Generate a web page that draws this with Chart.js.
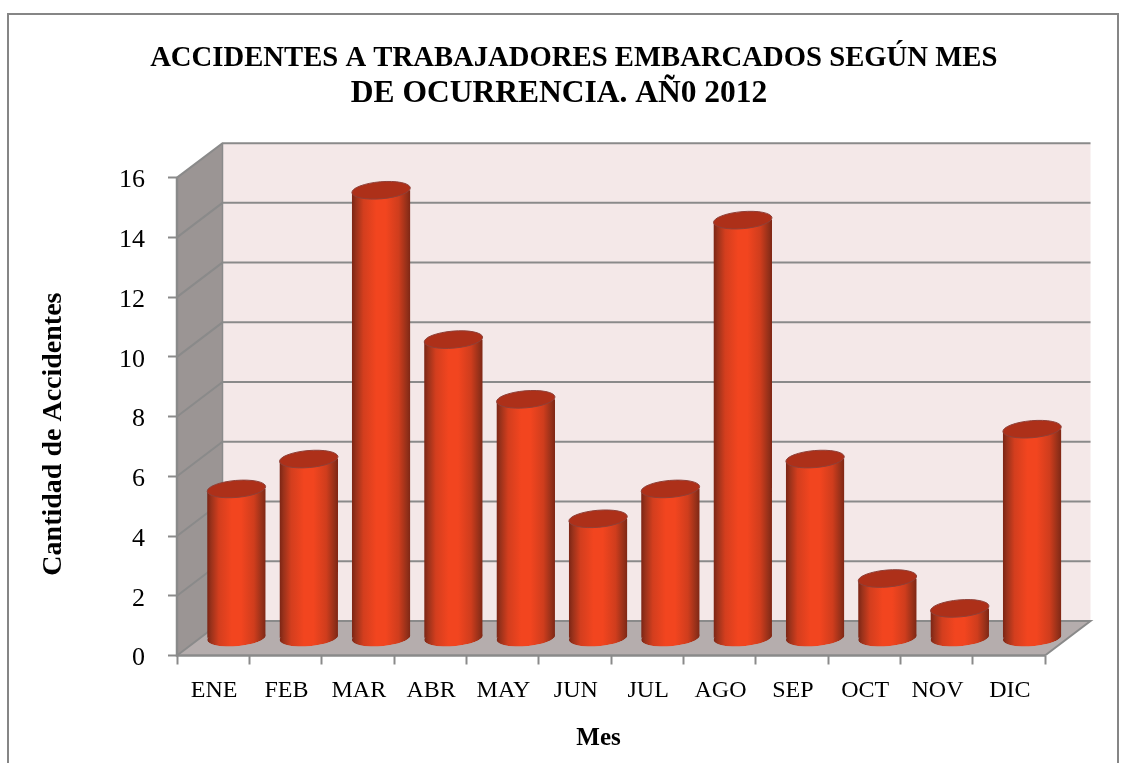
<!DOCTYPE html>
<html>
<head>
<meta charset="utf-8">
<style>html,body{margin:0;padding:0;background:#fff}canvas{display:block}</style>
<script src="https://cdn.jsdelivr.net/npm/chart.js@4"></script>
</head>
<body>
<canvas id="c" width="1126" height="763"></canvas>
<script>
const categories = ['ENE','FEB','MAR','ABR','MAY','JUN','JUL','AGO','SEP','OCT','NOV','DIC'];
const accidents = [5,6,15,10,8,4,5,14,6,2,1,7];
const titleLine1 = '\u00A0\u00A0\u00A0ACCIDENTES A TRABAJADORES EMBARCADOS SEGÚN MES';
const titleLine2 = 'DE OCURRENCIA. AÑ0 2012\u00A0';
const yTitle = 'Cantidad de Accidentes\u00A0\u00A0\u00A0\u00A0\u00A0';
const xTitle = 'Mes\u00A0\u00A0\u00A0\u00A0';
const FONT = '"Liberation Serif"';
const DX = 45.5, DY = -34.5, GRID = '#8a8a8a';

function poly(ctx, pts, fill, stroke, lw){
  ctx.beginPath();
  pts.forEach((p,i)=> i?ctx.lineTo(p[0],p[1]):ctx.moveTo(p[0],p[1]));
  if(fill){ctx.closePath();ctx.fillStyle=fill;ctx.fill();}
  if(stroke){ctx.strokeStyle=stroke;ctx.lineWidth=lw||2;ctx.stroke();}
}
function cylGradient(ctx,l,r){
  const g=ctx.createLinearGradient(l,0,r,0);
  g.addColorStop(0,'#7a2414');g.addColorStop(.07,'#9a321b');g.addColorStop(.2,'#d33e1e');
  g.addColorStop(.42,'#f2451f');g.addColorStop(.58,'#f2451f');g.addColorStop(.8,'#cf3d1d');
  g.addColorStop(.94,'#943019');g.addColorStop(1,'#7e2614');
  return g;
}
const TILT=-0.085, RY=8.5;
const scene3d={
  id:'scene3d',
  beforeDraw(chart){
    const c=chart.ctx;
    c.save();
    c.fillStyle='#fff';c.fillRect(0,0,chart.width,chart.height);
    c.strokeStyle='#868686';c.lineWidth=2;
    c.beginPath();c.moveTo(8,763);c.lineTo(8,14);c.lineTo(1118,14);c.lineTo(1118,763);c.stroke();
    c.restore();
    chart.scales.y.getLabelItems().forEach(it=>{
      if(!it.nudged){it.options.translation[1]+=3;it.options.translation[0]-=1;it.nudged=true;}
    });
    chart.scales.x.getLabelItems().forEach(it=>{
      if(!it.nudged){it.options.translation[1]-=2;it.options.translation[0]+=1;it.nudged=true;}
    });
  },
  beforeDatasetsDraw(chart){
    const c=chart.ctx,{x:xs,y:ys}=chart.scales;
    const l=xs.left,r=xs.right,t=ys.top,b=ys.bottom;
    c.save();
    poly(c,[[l+DX,t+DY],[r+DX,t+DY],[r+DX,b+DY],[l+DX,b+DY]],'#f4e8e8');
    poly(c,[[l,t],[l+DX,t+DY],[l+DX,b+DY],[l,b]],'#9b9594');
    poly(c,[[l,b],[l+DX,b+DY],[r+DX,b+DY],[r,b]],'#b5adad');
    ys.ticks.forEach(tk=>{
      const y=ys.getPixelForValue(tk.value);
      if(tk.value===0) return;
      poly(c,[[l,y],[l+DX,y+DY],[r+DX,y+DY]],null,GRID,2);
    });
    poly(c,[[l,b],[l+DX,b+DY],[r+DX,b+DY],[r,b]],null,GRID,2);
    poly(c,[[l,t],[l,b],[r,b]],null,GRID,2.5);
    poly(c,[[l+DX,t+DY],[l+DX,b+DY]],null,GRID,1.5);
    c.restore();
  },
  beforeDatasetDraw(chart,args){
    const c=chart.ctx,bars=args.meta.data;
    c.save();
    c.translate(DX/2+0.5,DY/2);
    c.beginPath();
    bars.forEach(bar=>{
      const rx=bar.width/2,d=rx*Math.sin(-TILT);
      c.moveTo(bar.x-rx,bar.y+d);
      c.lineTo(bar.x+rx,bar.y-d);
      c.ellipse(bar.x,bar.base,rx,RY,TILT,0,Math.PI);
      c.closePath();
    });
    c.clip();
    bars.forEach(bar=>{
      const rx=bar.width/2;
      c.beginPath();c.ellipse(bar.x,bar.base,rx,RY,TILT,0,Math.PI*2);
      c.fillStyle=cylGradient(c,bar.x-rx,bar.x+rx);c.fill();
    });
  },
  afterDatasetDraw(chart,args){
    const c=chart.ctx;
    c.restore();
    c.save();
    c.translate(DX/2+0.5,DY/2);
    args.meta.data.forEach(bar=>{
      const rx=bar.width/2;
      c.beginPath();c.ellipse(bar.x,bar.y,rx,RY,TILT,0,Math.PI*2);
      c.fillStyle='#ad3019';c.fill();
      c.strokeStyle='#8f4038';c.lineWidth=1;c.stroke();
    });
    c.restore();
  }
};
new Chart(document.getElementById('c'),{
  type:'bar',
  data:{labels:categories,datasets:[{
    label:'Cantidad de Accidentes',data:accidents,clip:false,yAxisID:'y',
    barPercentage:.81,categoryPercentage:1,
    backgroundColor(ctx){
      const chart=ctx.chart,xs=chart.scales.x;
      if(!xs||ctx.dataIndex===undefined) return '#f2451f';
      const cx=xs.getPixelForValue(ctx.dataIndex),hw=(xs.width/categories.length)*.81/2;
      if(!isFinite(cx)||!isFinite(hw)) return '#f2451f';
      return cylGradient(chart.ctx,cx-hw,cx+hw);
    },
    borderWidth:0
  }]},
  options:{
    responsive:false,animation:false,
    layout:{padding:0},
    plugins:{
      legend:{display:false},tooltip:{enabled:false},
      title:{display:true,text:titleLine1,color:'#000',
        font:{family:FONT,size:28.7,weight:'bold',lineHeight:1.2},
        padding:{top:41,bottom:0}},
      subtitle:{display:true,text:titleLine2,color:'#000',
        font:{family:FONT,size:31.5,weight:'bold',lineHeight:1.2},
        padding:{top:0,bottom:64.4}}
    },
    scales:{
      x:{
        afterFit(s){s.height=107.5;},
        grid:{offset:true,drawOnChartArea:false,tickLength:9,tickColor:GRID,tickWidth:2,drawTicks:true},
        border:{display:false},
        ticks:{color:'#000',padding:14,maxRotation:0,autoSkip:false,font:{family:FONT,size:24}},
        title:{display:true,text:xTitle,color:'#000',font:{family:FONT,size:25,weight:'bold'},padding:{top:0,bottom:9}}
      },
      y:{
        min:0,max:16,
        afterFit(s){s.width=177;},
        grid:{drawOnChartArea:false,tickLength:9,tickColor:GRID,tickWidth:2},
        border:{display:false},
        ticks:{stepSize:2,color:'#000',padding:22,font:{family:FONT,size:26}},
        title:{display:true,text:yTitle,color:'#000',font:{family:FONT,size:28,weight:'bold'},padding:{top:37,bottom:0}}
      },
      spacer:{
        position:'right',display:true,
        afterFit(s){s.width=81;},
        grid:{display:false},border:{display:false},ticks:{display:false}
      }
    }
  },
  plugins:[scene3d]
});
</script>
</body>
</html>
